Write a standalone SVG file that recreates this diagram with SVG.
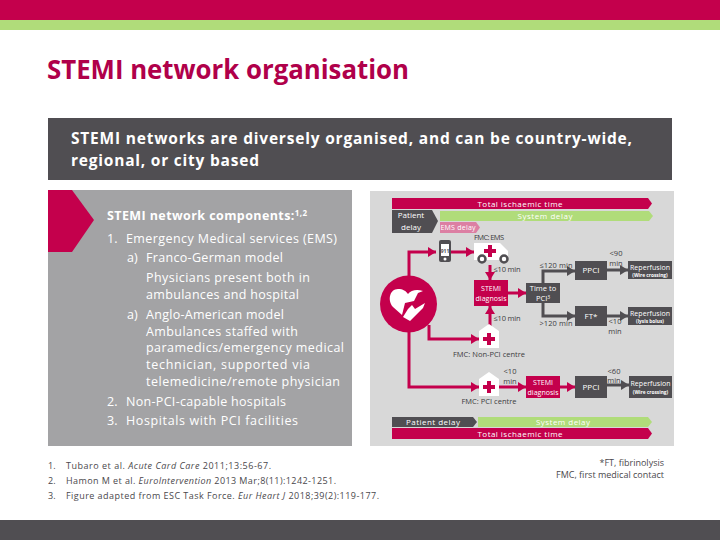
<svg xmlns="http://www.w3.org/2000/svg" width="720" height="540" viewBox="0 0 720 540">
<defs>
<marker id="ac" markerUnits="userSpaceOnUse" markerWidth="10" markerHeight="10" refX="8" refY="5" orient="auto"><path d="M0,0 L8,5 L0,10 Z" fill="#c4004c"/></marker>
<marker id="ad" markerUnits="userSpaceOnUse" markerWidth="10" markerHeight="10" refX="8" refY="5" orient="auto"><path d="M0,0 L8,5 L0,10 Z" fill="#504e52"/></marker>
<path id="house" d="M-10,-8 L0,-15 L10,-8 L10,9 L-10,9 Z" fill="#fff"/>
<path id="cross" d="M-2,-6 H2 V-2 H6 V2 H2 V6 H-2 V2 H-6 V-2 H-2 Z" fill="#c4004c"/>
</defs>
<style>
text{font-family:"Open Sans","DejaVu Sans",sans-serif;}
.d{fill:#504e52}.c{fill:#c4004c}.g{fill:#b0dc7a}
.w{fill:#fff}.t{font-size:12.5px;fill:#fff}
.s{font-size:7.5px;text-anchor:middle;fill:#3c3c40}
.n{font-size:8px;text-anchor:middle;fill:#fff}
.x{font-size:4.8px;text-anchor:middle;fill:#fff;font-weight:700}
.f{font-size:9px;fill:#4a484c}
.lc{fill:none;stroke:#c4004c;stroke-width:3;marker-end:url(#ac)}
.ld{fill:none;stroke:#504e52;stroke-width:3;marker-end:url(#ad)}
</style>
<rect width="720" height="20" class="c"/>
<rect y="20" width="720" height="10" class="g"/>
<rect y="520" width="720" height="20" class="d"/>
<text x="47" y="79" font-size="26" font-weight="700" fill="#b0004a" textLength="362" lengthAdjust="spacingAndGlyphs">STEMI network organisation</text>
<rect x="48" y="118" width="624" height="62" class="d"/>
<text x="71" y="144" font-size="15.500" font-weight="700" fill="#fff" textLength="561">STEMI networks are diversely organised, and can be country-wide,</text>
<text x="71" y="166" font-size="15.500" font-weight="700" fill="#fff" textLength="188">regional, or city based</text>
<g id="components">
<rect x="48" y="190" width="304" height="256" fill="#a3a3a5"/>
<path d="M48,190 H72 L94,220 L72,252 H48 Z" class="c"/>
<text x="107" y="220" font-size="12.5" font-weight="700" fill="#fff" textLength="200">STEMI network components:<tspan font-size="8" dy="-4">1,2</tspan></text>
<text class="t" x="107" y="243">1.</text><text class="t" x="126" y="243" textLength="211">Emergency Medical services (EMS)</text>
<text class="t" x="127" y="262">a)</text><text class="t" x="146" y="262" textLength="137">Franco-German model</text>
<text class="t" x="146" y="282" textLength="164">Physicians present both in</text>
<text class="t" x="146" y="299" textLength="153">ambulances and hospital</text>
<text class="t" x="127" y="319">a)</text><text class="t" x="146" y="319" textLength="138">Anglo-American model</text>
<text class="t" x="146" y="336" textLength="152">Ambulances staffed with</text>
<text class="t" x="146" y="352" textLength="198">paramedics/emergency medical</text>
<text class="t" x="146" y="369" textLength="164">technician, supported via</text>
<text class="t" x="146" y="386" textLength="194">telemedicine/remote physician</text>
<text class="t" x="107" y="406">2.</text><text class="t" x="126" y="406" textLength="160">Non-PCI-capable hospitals</text>
<text class="t" x="107" y="425">3.</text><text class="t" x="126" y="425" textLength="172">Hospitals with PCI facilities</text>
</g>
<rect x="370" y="191" width="304" height="255" fill="#d8d8d8"/>
<g id="bars">
<path d="M392,198 H648 L652,203.5 L648,209 H392 Z" class="c"/>
<text x="520" y="207" class="n" textLength="85">Total ischaemic time</text>
<path d="M440,211 H649 L653,216 L649,221 H440 Z" class="g"/>
<text x="545" y="219" class="n" textLength="55">System delay</text>
<path d="M392,210 H432 L438,221 L432,233 H392 Z" class="d"/>
<text x="411" y="218" class="n">Patient</text><text x="411" y="230" class="n">delay</text>
<path d="M440,222 H476 L480,227.5 L476,233 H440 Z" fill="#dc7fa3"/>
<text x="458" y="230" class="n" style="font-size:7px" textLength="35">EMS delay</text>
<path d="M392,417 H473 L477,422 L473,427 H392 Z" class="d"/>
<text x="433" y="425" class="n" textLength="54">Patient delay</text>
<path d="M478,417 H648 L652,422 L648,427 H478 Z" class="g"/>
<text x="563" y="425" class="n" textLength="54">System delay</text>
<path d="M392,428 H648 L652,433.5 L648,439 H392 Z" class="c"/>
<text x="520" y="437" class="n" textLength="85">Total ischaemic time</text>
</g>
<g id="connectors">
<path class="lc" d="M409,276 V252 H436"/>
<path class="lc" d="M451,252 H474"/>
<path class="lc" d="M490,265 V280"/>
<path class="lc" d="M490,330 V306"/>
<path class="lc" d="M508,293 H526"/>
<path class="lc" d="M429,325 V339 H479"/>
<path class="lc" d="M409,332 V387 H479"/>
<path class="lc" d="M499,387 H526"/>
<path class="lc" d="M560,387 H575"/>
<path class="ld" d="M543,283 V271 H575"/>
<path class="ld" d="M543,303 V316 H575"/>
<path class="ld" d="M607,270 H628"/>
<path class="ld" d="M607,316 H628"/>
<path class="ld" d="M607,385 H629"/>
</g>
<g id="aed">
<circle cx="408.5" cy="304" r="28.5" class="c"/>
<path d="M402,315 L393,307 C387,300 390,289 398,289 C403,289 406,291 408,294 C411,290 417,289 423,291 L418,293 L414,301 L405,303 Z" fill="#fff"/>
<path d="M412,305 L415,309 L425,303 L423,308 L410,321 L403,317 L408,309 Z" fill="#fff"/>
</g>
<g id="phone">
<rect x="439" y="240" width="12" height="22" rx="2" class="d"/>
<rect x="441" y="244" width="8" height="12" class="w"/>
<circle cx="445" cy="259" r="1.5" class="w"/>
<text x="445" y="252.500" font-size="5" text-anchor="middle" fill="#504e52" font-weight="700">911</text>
</g>
<g id="ambulance">
<path d="M474,243 H500 L508,251 V260 H474 Z" class="w"/>
<use href="#cross" x="490" y="251"/>
<circle cx="482" cy="259" r="3.500" fill="#fff" stroke="#504e52" stroke-width="2.500"/>
<circle cx="504" cy="259" r="3.500" fill="#fff" stroke="#504e52" stroke-width="2.500"/>
<text x="489" y="240" class="s" textLength="30">FMC: EMS</text>
</g>
<g id="stemi1"><rect x="474" y="280" width="34" height="26" class="c"/>
<text x="491" y="291" class="n" style="font-size:7px">STEMI</text><text x="491" y="301" class="n" style="font-size:7px" textLength="31">diagnosis</text></g>
<g id="time"><rect x="526" y="283" width="34" height="20" class="d"/>
<text x="543" y="291" class="n" style="font-size:7.5px">Time to</text><text x="543" y="301" class="n" style="font-size:7.5px">PCI<tspan font-size="5" dy="-2">3</tspan></text></g>
<g id="ppci1"><rect x="575" y="261" width="32" height="19" class="d"/><text x="591" y="273" class="n">PPCI</text></g>
<g id="rep1"><rect x="628" y="261" width="44" height="18" class="d"/><text x="650" y="270" class="n" style="font-size:7px" textLength="40">Reperfusion</text><text x="650" y="277" class="x">(Wire crossing)</text></g>
<g id="ft"><rect x="575" y="306" width="32" height="20" class="d"/><text x="591" y="319" class="n">FT*</text></g>
<g id="rep2"><rect x="628" y="307" width="44" height="18" class="d"/><text x="650" y="316" class="n" style="font-size:7px" textLength="40">Reperfusion</text><text x="650" y="323" class="x">(lysis bolus)</text></g>
<g id="house1"><use href="#house" x="489" y="339"/><use href="#cross" x="489" y="339"/><text x="489" y="357" class="s" textLength="72">FMC: Non-PCI centre</text></g>
<g id="house2"><use href="#house" x="489" y="387"/><use href="#cross" x="489" y="387"/><text x="489" y="404" class="s" textLength="55">FMC: PCI centre</text></g>
<g id="stemi2"><rect x="526" y="376" width="34" height="22" class="c"/>
<text x="543" y="385" class="n" style="font-size:7px">STEMI</text><text x="543" y="395" class="n" style="font-size:7px" textLength="31">diagnosis</text></g>
<g id="ppci2"><rect x="575" y="376" width="32" height="22" class="d"/><text x="591" y="390" class="n">PPCI</text></g>
<g id="rep3"><rect x="629" y="376" width="43" height="22" class="d"/><text x="650.500" y="386" class="n" style="font-size:7px" textLength="40">Reperfusion</text><text x="650.500" y="394" class="x">(Wire crossing)</text></g>
<g id="labels">
<text x="507" y="272" class="s" textLength="27">≤10 min</text>
<text x="507" y="321" class="s" textLength="27">≤10 min</text>
<text x="556" y="268" class="s" textLength="33">≤120 min</text>
<text x="556" y="326" class="s" textLength="33">&gt;120 min</text>
<text x="616" y="256" class="s">&lt;90</text><text x="616" y="266" class="s">min</text>
<text x="615" y="324" class="s">&lt;10</text><text x="615" y="334" class="s">min</text>
<text x="510" y="374" class="s">&lt;10</text><text x="510" y="384" class="s">min</text>
<text x="614" y="374" class="s">&lt;60</text><text x="614" y="383" class="s">min</text>
</g>
<g id="refs">
<text class="f" x="48" y="469">1.</text><text class="f" x="66" y="469" textLength="205">Tubaro et al. <tspan font-style="italic">Acute Card Care</tspan> 2011;13:56-67.</text>
<text class="f" x="48" y="484">2.</text><text class="f" x="66" y="484" textLength="270">Hamon M et al. <tspan font-style="italic">EuroIntervention</tspan> 2013 Mar;8(11):1242-1251.</text>
<text class="f" x="48" y="499">3.</text><text class="f" x="66" y="499" textLength="313">Figure adapted from ESC Task Force. <tspan font-style="italic">Eur Heart J</tspan> 2018;39(2):119-177.</text>
<text class="f" x="664" y="466" text-anchor="end">*FT, fibrinolysis</text>
<text class="f" x="664" y="478" text-anchor="end">FMC, first medical contact</text>
</g>
</svg>
